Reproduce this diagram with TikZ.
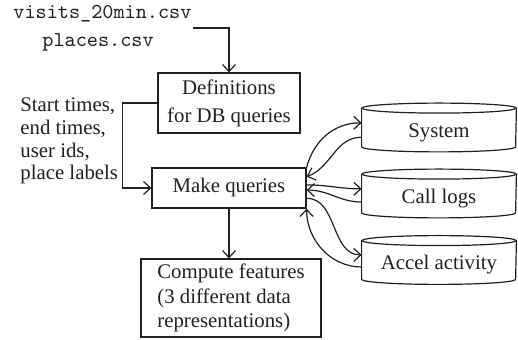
\documentclass[tikz,border=0pt]{standalone}
\usepackage{fontspec}
\setmainfont{Liberation Serif}
\usetikzlibrary{arrows.meta,calc}
\definecolor{ink}{HTML}{231F20}
\begin{document}
\begin{tikzpicture}[x=0.5pt,y=-0.5pt,
  every node/.style={text=ink},
  line/.style={draw=ink,line width=0.6pt},
  arr/.style={line,-{Straight Barb[length=3.5pt,width=6.5pt]}},
  serif/.style={font=\fontsize{10.4}{#1}\selectfont},
  serif/.default=12.5,
  box/.style={line,inner sep=0pt,align=center,serif},
  filename/.style={anchor=base west,inner sep=0pt,font=\ttfamily\fontsize{10.6}{12}\selectfont},
  db/.style={inner sep=0pt,minimum width=77pt,minimum height=19pt,
    text height=10pt,text depth=0pt,serif},
]
\useasboundingbox (0,0) rectangle (518,340);

% input files
\node[filename] (visits) at (13,18.5) {visits\_20min.csv};
\node[filename] (places) at (42,47) {places.csv};
\coordinate (feed) at (193,28);

% processing steps
\node[box,minimum width=71pt,minimum height=30pt,serif=14] (def) at (229,103)
  {Definitions\\for DB queries};
\node[box,minimum width=77pt,minimum height=20pt] (make) at (229,188) {Make queries};
\node[box,align=left,minimum width=90pt,minimum height=39pt,serif=12.25] (comp) at (231,298)
  {Compute features\\(3 different data\\representations)};
\node[anchor=west,align=left,inner sep=0pt,serif=11.35] (inputs) at (20,141)
  {Start times,\\end times,\\user ids,\\place labels};

% databases
\node[db] (sys) at (439,127.5) {System};
\node[db] (calls) at (439,193.5) {Call logs};
\node[db] (accel) at (439,260) {Accel activity};
\foreach \n in {sys,calls,accel}{
  \draw[line] (\n.north west) -- (\n.south west)
    arc[start angle=180,end angle=360,x radius=38.5pt,y radius=2.5pt]
    -- (\n.north east);
  \draw[line] (\n.north) ellipse[x radius=38.5pt,y radius=2.5pt];
}

% flow
\draw[arr] (feed) -| (def.north);
\draw[arr] (def.west) -- ++(-35,0) |- (make.west);
\draw[arr] (make.south) -- (make.south |- comp.north);

% queries and answers
\draw[arr] (make.north east) to[out=75,in=180]
  ($(sys.north west)!0.38!(sys.south west)$);
\draw[arr] ($(sys.north west)!0.75!(sys.south west)$) to[out=180,in=20]
  ($(make.north east)!0.225!(make.south east)$);
\draw[arr] ($(make.north east)!0.425!(make.south east)$) to[out=0,in=180]
  ($(calls.north west)!0.38!(calls.south west)$);
\draw[arr] ($(calls.north west)!0.72!(calls.south west)$) to[out=180,in=0]
  ($(make.north east)!0.55!(make.south east)$);
\draw[arr] ($(make.north east)!0.75!(make.south east)$) to[out=0,in=180]
  ($(accel.north west)!0.37!(accel.south west)$);
\draw[arr] ($(accel.north west)!0.68!(accel.south west)$) to[out=180,in=-90]
  (make.south east);
\end{tikzpicture}
\end{document}
